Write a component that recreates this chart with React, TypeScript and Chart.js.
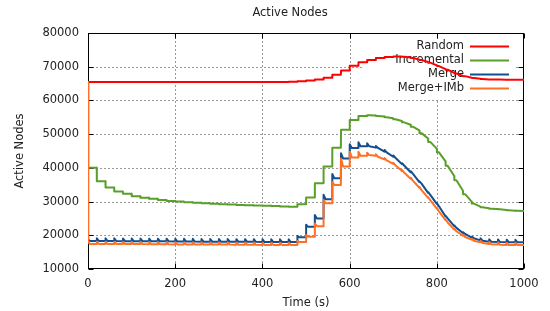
import React, { useEffect, useRef } from 'react';
import { Chart, registerables } from 'chart.js';

Chart.register(...registerables);

// Event times (s) at which the simulations update (every 20 s)
const eventTimes = [
  0, 20, 40, 60, 80, 100, 120, 140, 160, 180,
  200, 220, 240, 260, 280, 300, 320, 340, 360, 380,
  400, 420, 440, 460, 480, 500, 520, 540, 560, 580,
  600, 620, 640, 660, 680, 700, 720, 740, 760, 780,
  800, 820, 840, 860, 880, 900, 920, 940, 960, 980,
  1000,
];

const xTicks = [0, 200, 400, 600, 800, 1000];
const yTicks = [10000, 20000, 30000, 40000, 50000, 60000, 70000, 80000];
const seriesNames = ['Random', 'Incremental', 'Merge', 'Merge+IMb'];

// Random: value just before each event, and value after the event
const randomBefore = [
  65500, 65500, 65500, 65500, 65500, 65500, 65500, 65500, 65500, 65500,
  65500, 65500, 65500, 65500, 65500, 65500, 65500, 65500, 65500, 65500,
  65500, 65500, 65500, 65500, 65550, 65700, 65900, 66200, 66700, 67600,
  68900, 70300, 71300, 72000, 72600, 72900, 73000, 72700, 72100, 71400,
  70400, 69300, 68200, 67300, 66700, 66400, 66200, 66200, 66150, 66150,
  66150,
];
const randomAfter = [
  65500, 65500, 65500, 65500, 65500, 65500, 65500, 65500, 65500, 65500,
  65500, 65500, 65500, 65500, 65500, 65500, 65500, 65500, 65500, 65500,
  65500, 65500, 65500, 65550, 65700, 65900, 66200, 66700, 67600, 68900,
  70300, 71300, 72000, 72600, 72900, 73000, 72950, 72600, 72000, 71200,
  70200, 69100, 68000, 67200, 66650, 66350, 66200, 66200, 66150, 66150,
  66150,
];

// Incremental
const incBefore = [
  65500, 40000, 36000, 34200, 33000, 32300, 31600, 31100, 30800, 30500,
  30200, 30000, 29800, 29650, 29500, 29350, 29200, 29100, 29000, 28900,
  28800, 28750, 28650, 28550, 28500, 29200, 31200, 35400, 40400, 46000,
  51300, 54200, 55400, 55500, 55200, 54700, 53900, 52800, 51100, 48700,
  45700, 41900, 37600, 33200, 30000, 28500, 28000, 27800, 27500, 27300,
  27200,
];
const incAfter = [
  40000, 36000, 34200, 33000, 32300, 31600, 31100, 30800, 30500, 30200,
  30000, 29800, 29650, 29500, 29350, 29200, 29100, 29000, 28900, 28800,
  28750, 28650, 28550, 28500, 29200, 31200, 35400, 40400, 46000, 51300,
  54200, 55400, 55600, 55400, 55000, 54400, 53500, 52200, 50300, 47700,
  44600, 40600, 36300, 32200, 29400, 28300, 27900, 27700, 27400, 27250,
  27200,
];

// Merge
const mergeBefore = [
  65500, 18300, 18300, 18300, 18250, 18250, 18250, 18200, 18200, 18200,
  18150, 18150, 18150, 18100, 18100, 18100, 18100, 18050, 18050, 18050,
  18000, 18000, 18000, 18000, 18000, 19400, 22500, 25000, 30700, 36900,
  42800, 45900, 46400, 46000, 44800, 43300, 41100, 38700, 35800, 32600,
  29300, 25600, 22700, 20700, 19300, 18500, 18100, 18000, 17950, 17900,
  17900,
];
const mergePeak = [
  18700, 19100, 19100, 19100, 19050, 19050, 19050, 19000, 19000, 19000,
  18950, 18950, 18950, 18900, 18900, 18900, 18900, 18850, 18850, 18850,
  18800, 18800, 18800, 18800, 19800, 23100, 26000, 32000, 38200, 44300,
  47000, 47600, 47300, 46500, 45300, 43700, 41400, 39000, 36000, 32800,
  29500, 25800, 22900, 20900, 19600, 19100, 18800, 18750, 18700, 18650,
  17900,
];
const mergeAfter = [
  18300, 18300, 18300, 18300, 18250, 18250, 18250, 18200, 18200, 18200,
  18150, 18150, 18150, 18100, 18100, 18100, 18100, 18050, 18050, 18050,
  18000, 18000, 18000, 18000, 19400, 22500, 25000, 30700, 36900, 42800,
  45900, 46400, 46400, 45900, 44600, 43000, 40700, 38300, 35300, 32000,
  28600, 25000, 22200, 20400, 19100, 18400, 18100, 18000, 17950, 17900,
  17900,
];

// Merge+IMb
const imbBefore = [
  65500, 17450, 17450, 17450, 17400, 17400, 17400, 17350, 17350, 17350,
  17300, 17300, 17300, 17250, 17250, 17250, 17250, 17200, 17200, 17200,
  17150, 17150, 17150, 17150, 17150, 18000, 19600, 22700, 29500, 34900,
  40400, 43100, 43600, 43600, 42500, 41200, 39100, 36800, 34100, 31100,
  27900, 24500, 21700, 19900, 18700, 17900, 17400, 17250, 17150, 17100,
  17100,
];
const imbPeak = [
  17900, 18100, 18100, 18100, 18050, 18050, 18050, 18000, 18000, 18000,
  17950, 17950, 17950, 17900, 17900, 17900, 17900, 17850, 17850, 17850,
  17800, 17800, 17800, 17800, 18300, 20100, 23500, 30500, 35900, 42800,
  44800, 44800, 44500, 44000, 42900, 41500, 39400, 37100, 34300, 31300,
  28100, 24700, 21900, 20100, 19000, 18400, 18000, 17900, 17800, 17750,
  17100,
];
const imbAfter = [
  17450, 17450, 17450, 17450, 17400, 17400, 17400, 17350, 17350, 17350,
  17300, 17300, 17300, 17250, 17250, 17250, 17250, 17200, 17200, 17200,
  17150, 17150, 17150, 17150, 18000, 19600, 22700, 29500, 34900, 40400,
  43100, 43600, 43800, 43300, 42200, 40800, 38600, 36200, 33400, 30400,
  27100, 23800, 21200, 19500, 18400, 17700, 17350, 17200, 17120, 17100,
  17100,
];

const COLORS = ['#ff0000', '#5a9f2a', '#114f8f', '#ff7024'];
const FONT = "'DejaVu Sans', sans-serif";
const TEXT = '#222222';

function buildPoints(before: number[], peak: number[], after: number[]) {
  const pts: { x: number; y: number }[] = [];
  const last = eventTimes.length - 1;
  eventTimes.forEach((t, k) => {
    pts.push({ x: t, y: before[k] });
    if (k < last) {
      pts.push({ x: t + 0.3, y: peak[k] });
      pts.push({ x: t + 5, y: after[k] });
    }
  });
  return pts;
}

const decor = {
  id: 'decor',
  beforeDatasetsDraw(chart: any) {
    const { ctx, chartArea: a, scales } = chart;
    const xs = scales.x;
    const ys = scales.y;
    const L = Math.round(a.left) + 0.5;
    const R = Math.round(a.right) - 0.5;
    const T = Math.round(a.top) + 0.5;
    const B = Math.round(a.bottom) - 0.5;
    ctx.save();
    // dotted grid
    ctx.strokeStyle = '#333';
    ctx.lineWidth = 1;
    ctx.setLineDash([1, 3]);
    xTicks.forEach((v) => {
      const px = Math.round(xs.getPixelForValue(v)) + 0.5;
      if (px <= L + 1 || px >= R - 1) return;
      ctx.beginPath();
      ctx.moveTo(px, T);
      ctx.lineTo(px, B);
      ctx.stroke();
    });
    yTicks.forEach((v) => {
      const py = Math.round(ys.getPixelForValue(v)) + 0.5;
      if (py <= T + 1 || py >= B - 1) return;
      ctx.beginPath();
      ctx.moveTo(L, py);
      ctx.lineTo(R, py);
      ctx.stroke();
    });
    ctx.setLineDash([]);
    // opaque legend box
    ctx.fillStyle = '#ffffff';
    ctx.fillRect(362, 39, 152, 60);
    // border
    ctx.strokeStyle = '#000';
    ctx.lineWidth = 1;
    ctx.strokeRect(L, T, R - L, B - T);
    // inward ticks
    const tl = 5;
    ctx.beginPath();
    xTicks.forEach((v) => {
      const px = Math.round(xs.getPixelForValue(v)) + 0.5;
      ctx.moveTo(px, B);
      ctx.lineTo(px, B - tl);
      ctx.moveTo(px, T);
      ctx.lineTo(px, T + tl);
    });
    yTicks.forEach((v) => {
      const py = Math.round(ys.getPixelForValue(v)) + 0.5;
      ctx.moveTo(L, py);
      ctx.lineTo(L + tl, py);
      ctx.moveTo(R, py);
      ctx.lineTo(R - tl, py);
    });
    ctx.stroke();
    // legend
    ctx.font = `11.5px ${FONT}`;
    ctx.textAlign = 'right';
    ctx.textBaseline = 'middle';
    const rows = [46, 60, 74, 88];
    seriesNames.forEach((name, i) => {
      ctx.fillStyle = TEXT;
      ctx.fillText(name, 464, rows[i]);
      ctx.strokeStyle = COLORS[i];
      ctx.lineWidth = 2;
      ctx.beginPath();
      ctx.moveTo(470, rows[i] + 0.5);
      ctx.lineTo(509, rows[i] + 0.5);
      ctx.stroke();
    });
    ctx.restore();
  },
  afterDraw(chart: any) {
    const { ctx, chartArea: a } = chart;
    ctx.save();
    ctx.fillStyle = TEXT;
    ctx.font = `11.5px ${FONT}`;
    ctx.textAlign = 'center';
    ctx.textBaseline = 'middle';
    ctx.fillText('Active Nodes', 290, 13);
    ctx.fillText('Time (s)', (a.left + a.right) / 2, 303);
    ctx.translate(20, (a.top + a.bottom) / 2);
    ctx.rotate(-Math.PI / 2);
    ctx.fillText('Active Nodes', 0, 0);
    ctx.restore();
  },
};

export default function App() {
  const ref = useRef<HTMLCanvasElement | null>(null);
  useEffect(() => {
    document.body.style.margin = '0';
    const canvas = ref.current;
    if (!canvas) return;
    const sets = [
      buildPoints(randomBefore, randomAfter, randomAfter),
      buildPoints(incBefore, incAfter, incAfter),
      buildPoints(mergeBefore, mergePeak, mergeAfter),
      buildPoints(imbBefore, imbPeak, imbAfter),
    ];
    const chart = new Chart(canvas, {
      type: 'line',
      data: {
        datasets: sets.map((d, i) => ({
          label: seriesNames[i],
          data: d,
          borderColor: COLORS[i],
          backgroundColor: COLORS[i],
          borderWidth: 2,
          borderJoinStyle: 'round',
          borderCapStyle: 'round',
          pointRadius: 0,
          tension: 0,
          fill: false,
          order: 4 - i,
        })),
      },
      options: {
        responsive: false,
        animation: false,
        events: [],
        layout: { padding: { top: 33, right: 26, left: 0, bottom: 0 } },
        plugins: {
          legend: { display: false },
          title: { display: false },
          tooltip: { enabled: false },
        },
        scales: {
          x: {
            type: 'linear',
            min: 0,
            max: 1000,
            grid: { display: false, drawTicks: false },
            border: { display: false },
            ticks: {
              stepSize: 200,
              color: TEXT,
              font: { family: FONT, size: 11.5 },
              padding: 8,
              maxRotation: 0,
              autoSkip: false,
              callback: (v: any) => String(v),
            },
            afterFit: (s: any) => {
              s.height = 42;
            },
          },
          y: {
            type: 'linear',
            min: 10000,
            max: 80000,
            grid: { display: false, drawTicks: false },
            border: { display: false },
            ticks: {
              stepSize: 10000,
              color: TEXT,
              font: { family: FONT, size: 11.5 },
              padding: 9,
              callback: (v: any) => String(v),
            },
            afterFit: (s: any) => {
              s.width = 88;
            },
          },
        },
      } as any,
      plugins: [decor],
    });
    return () => chart.destroy();
  }, []);
  return (
    <div style={{ width: 550, height: 311 }}>
      <canvas ref={ref} width={550} height={311} style={{ display: 'block' }} />
    </div>
  );
}
